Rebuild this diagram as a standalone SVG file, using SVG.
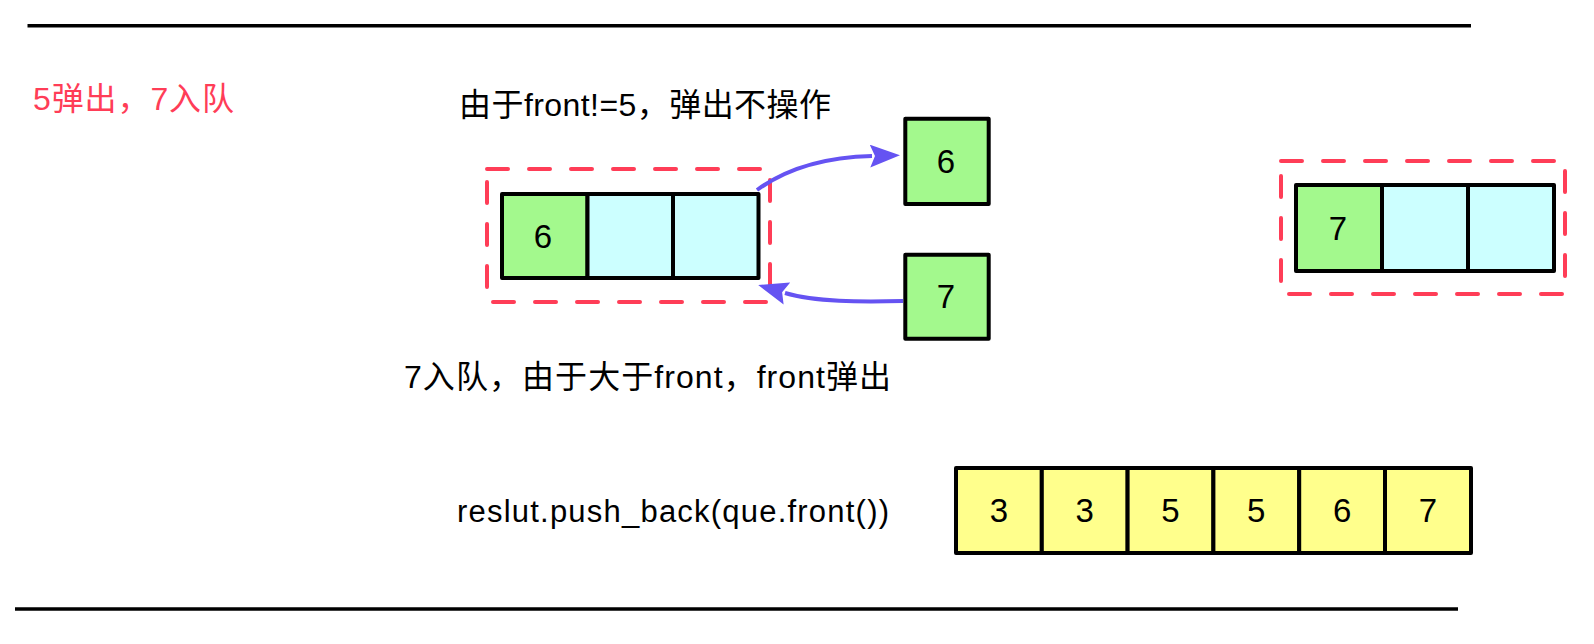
<svg xmlns="http://www.w3.org/2000/svg" width="1594" height="644" viewBox="0 0 1594 644">
  <style>
    .rule { stroke: #000; stroke-width: 3.5; }
    .cell { stroke: #000; stroke-width: 4; stroke-linejoin: round; }
    .green { fill: #A3F98D; }
    .cyan { fill: #CCFFFF; }
    .yellow { fill: #FFFF8C; }
    .dash { fill: none; stroke: #FF3D57; stroke-width: 4; stroke-dasharray: 21 21; stroke-linecap: round; }
    .num { font-family: "Liberation Sans", Arial, sans-serif; font-size: 33px; fill: #000; text-anchor: middle; }
    .lbl { font-family: "Liberation Sans", "Noto Sans CJK SC", sans-serif; font-size: 32px; fill: #000; }
    .code { font-family: "Liberation Sans", Arial, sans-serif; font-size: 31px; fill: #000; }
    .red { fill: #FF3D57; }
    .conn { fill: none; stroke: #6553F2; stroke-width: 4; }
  </style>
  <defs>
    <marker id="arr" viewBox="0 0 30 23" refX="2" refY="11.5" markerWidth="30" markerHeight="23" markerUnits="userSpaceOnUse" orient="auto">
      <path d="M0,0 L30,11.5 L0,23 L5,11.5 Z" fill="#6553F2"/>
    </marker>
  </defs>
  <rect width="1594" height="644" fill="#fff"/>

  <g id="rules">
    <line class="rule" x1="27.5" y1="25.7" x2="1471" y2="25.7"/>
    <line class="rule" x1="15" y1="609" x2="1458" y2="609"/>
  </g>

  <g id="title">
    <text class="lbl red" x="33" y="110" textLength="201" lengthAdjust="spacing">5弹出，7入队</text>
  </g>
  <g id="label-pop">
    <text class="lbl" x="459" y="116" textLength="372" lengthAdjust="spacing">由于front!=5，弹出不操作</text>
  </g>
  <g id="label-push">
    <text class="lbl" x="404" y="388" textLength="487" lengthAdjust="spacing">7入队，由于大于front，front弹出</text>
  </g>
  <g id="label-result">
    <text class="code" x="457" y="522" textLength="432" lengthAdjust="spacing">reslut.push_back(que.front())</text>
  </g>

  <g id="queue-left">
    <rect class="dash" x="487" y="169" width="283" height="133"/>
    <rect class="cell green" x="502" y="194" width="85.5" height="84"/>
    <rect class="cell cyan" x="587.5" y="194" width="85.5" height="84"/>
    <rect class="cell cyan" x="673" y="194" width="85.5" height="84"/>
    <text class="num" x="543" y="248">6</text>
  </g>

  <g id="node-6">
    <rect class="cell green" x="905.3" y="118.7" width="83.4" height="85.3"/>
    <text class="num" x="946" y="173">6</text>
  </g>

  <g id="node-7">
    <rect class="cell green" x="905.3" y="254.7" width="83.4" height="84"/>
    <text class="num" x="946" y="308">7</text>
  </g>

  <g id="queue-right">
    <rect class="dash" x="1281" y="161" width="284" height="133"/>
    <rect class="cell green" x="1296" y="185" width="86" height="86"/>
    <rect class="cell cyan" x="1382" y="185" width="86" height="86"/>
    <rect class="cell cyan" x="1468" y="185" width="86" height="86"/>
    <text class="num" x="1338" y="240">7</text>
  </g>

  <g id="result">
    <rect class="cell yellow" x="956" y="468" width="85.8" height="85"/>
    <rect class="cell yellow" x="1041.8" y="468" width="85.8" height="85"/>
    <rect class="cell yellow" x="1127.6" y="468" width="85.8" height="85"/>
    <rect class="cell yellow" x="1213.4" y="468" width="85.8" height="85"/>
    <rect class="cell yellow" x="1299.2" y="468" width="85.8" height="85"/>
    <rect class="cell yellow" x="1385" y="468" width="86" height="85"/>
    <text class="num" x="998.9" y="522">3</text>
    <text class="num" x="1084.7" y="522">3</text>
    <text class="num" x="1170.5" y="522">5</text>
    <text class="num" x="1256.3" y="522">5</text>
    <text class="num" x="1342.1" y="522">6</text>
    <text class="num" x="1428" y="522">7</text>
  </g>

  <g id="connectors">
    <path class="conn" d="M 757 190 C 790 166, 830 157, 872 156" marker-end="url(#arr)"/>
    <path class="conn" d="M 903 301 C 860 302, 815 302, 785 293" marker-end="url(#arr)"/>
  </g>
</svg>
